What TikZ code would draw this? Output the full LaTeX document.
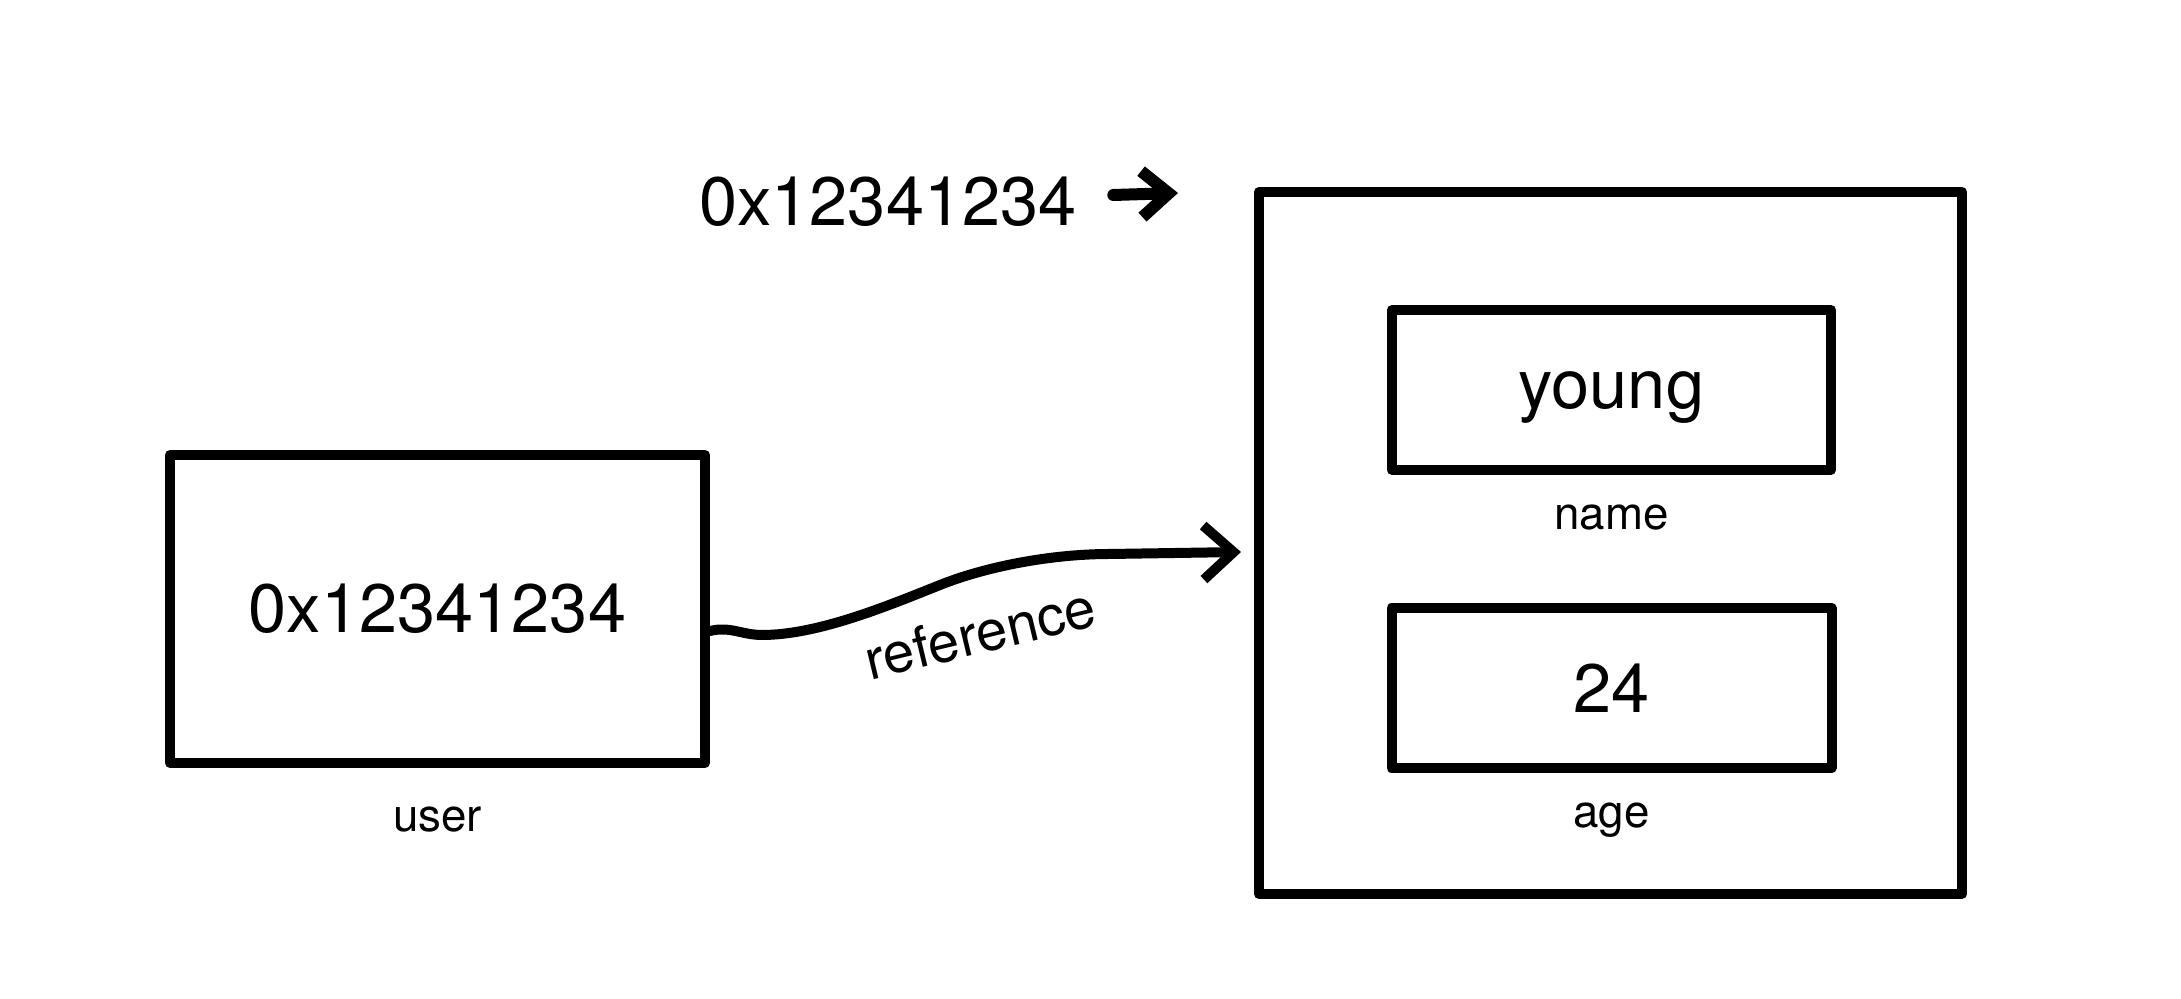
\documentclass[tikz,border=0pt]{standalone}
\usepackage{fontspec}
\setmainfont{TeX Gyre Heros}
\usetikzlibrary{arrows.meta, positioning}

\begin{document}
\begin{tikzpicture}
\tikzstyle{box} = [shape=rectangle, draw=black, line width=1mm, line join=round, inner sep=0pt];
\tikzstyle{val} = [font=\fontsize{19.5}{23}\selectfont, inner sep=0pt];
\tikzstyle{lbl} = [font=\fontsize{13}{16}\selectfont, inner sep=0pt, node distance=0.29cm];
\useasboundingbox (0,0) rectangle (21.81,9.99);

\node[box, val, minimum width=5.35cm, minimum height=3.08cm](user) at (4.375,3.90) {0x12341234};
\node[box, minimum width=7.03cm, minimum height=7.02cm](obj) at (16.105,4.56) {};
\node[box, val, text depth=0pt, minimum width=4.39cm, minimum height=1.60cm](name) at (16.115,6.09) {young};
\node[box, val, minimum width=4.40cm, minimum height=1.60cm, below=1.28cm of name](age) {24};

\node[lbl, below=0.38cm of user](userlbl) {user};
\node[lbl, below=of name](namelbl) {name};
\node[lbl, below=of age](agelbl) {age};

\node[val](addr) at (8.88,7.97) {0x12341234};
\coordinate[below left=0.06cm and 0.76cm of obj.north west](ptr);
\node[font=\fontsize{16}{19}\selectfont, inner sep=0pt, rotate=13.5](reflbl) at (9.8,3.66) {reference};

\draw[line width=1.2mm, line cap=round, -{Straight Barb[length=2.7mm,width=4.6mm]}, shorten <=3.6mm] (addr) -- (ptr);
\draw[line width=1mm, line cap=round, -{Straight Barb[length=3mm,width=5.4mm]}]
    ([yshift=-2.2mm]user.east) .. controls +(0.2,0.05) and +(-0.2,0) .. (7.62,3.64)
    .. controls +(0.55,0) and +(-0.55,-0.22) .. (9.4,4.14)
    .. controls +(0.45,0.18) and +(-0.6,0) .. (11.1,4.45)
    -- ([xshift=-1.3mm,yshift=-0.9mm]obj.west);
\end{tikzpicture}
\end{document}
